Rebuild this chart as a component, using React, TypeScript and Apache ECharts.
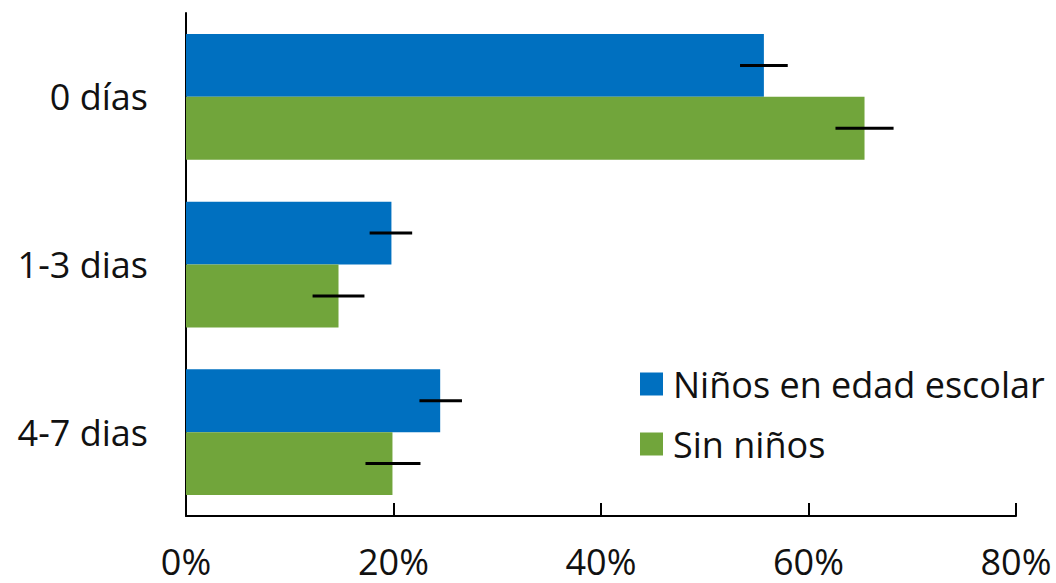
import React, { useEffect, useRef } from "react";
import * as echarts from "echarts";

const categories = ["0 días", "1-3 dias", "4-7 dias"];
const seriesNames = ["Niños en edad escolar", "Sin niños"];
const schoolKids = [55.7, 19.8, 24.5];
const schoolKidsLow = [53.4, 17.7, 22.5];
const schoolKidsHigh = [58.0, 21.8, 26.6];
const noKids = [65.4, 14.7, 19.9];
const noKidsLow = [62.6, 12.2, 17.3];
const noKidsHigh = [68.2, 17.2, 22.6];
const xTicks = [0, 20, 40, 60, 80];

const BLUE = "#0070C0";
const GREEN = "#71A53B";
const FONT = "Open Sans";

function errorSeries(low: number[], high: number[], dir: number) {
  return {
    type: "custom",
    silent: true,
    z: 10,
    data: low.map((l, i) => [i, l, high[i]]),
    encode: { x: [1, 2], y: 0 },
    renderItem: (params: any, api: any) => {
      const idx = api.value(0);
      const a = api.coord([api.value(1), idx]);
      const b = api.coord([api.value(2), idx]);
      const band = api.size([0, 1])[1];
      const off = dir * band * 0.1875;
      return {
        type: "line",
        shape: { x1: a[0], y1: a[1] + off, x2: b[0], y2: b[1] + off },
        style: { stroke: "#000", lineWidth: 3 },
      };
    },
  };
}

export default function App() {
  const ref = useRef<HTMLDivElement>(null);
  useEffect(() => {
    if (!ref.current) return;
    const chart = echarts.init(ref.current, undefined, { renderer: "svg" });
    chart.setOption({
      animation: false,
      textStyle: { fontFamily: FONT },
      grid: { left: 186, right: 40, top: 13, bottom: 67, containLabel: false },
      legend: {
        orient: "vertical",
        left: 635,
        top: 361,
        itemWidth: 23,
        itemHeight: 23,
        itemGap: 24,
        icon: "rect",
        data: seriesNames,
        textStyle: { fontSize: 36, color: "#111", fontFamily: FONT, padding: [0, 0, 0, 5] },
      },
      xAxis: {
        type: "value",
        min: xTicks[0],
        max: xTicks[xTicks.length - 1],
        interval: 20,
        axisLine: { show: true, lineStyle: { color: "#000", width: 2 } },
        axisTick: { show: true, inside: true, length: 13, lineStyle: { color: "#000", width: 2 } },
        splitLine: { show: false },
        axisLabel: {
          formatter: "{value}%",
          fontSize: 36,
          color: "#111",
          margin: 27,
          fontFamily: FONT,
        },
      },
      yAxis: {
        type: "category",
        inverse: true,
        data: categories,
        axisLine: { show: true, lineStyle: { color: "#000", width: 2 } },
        axisTick: { show: false },
        axisLabel: { fontSize: 36, color: "#111", margin: 38, fontFamily: FONT },
      },
      series: [
        {
          name: seriesNames[0],
          type: "bar",
          data: schoolKids,
          itemStyle: { color: BLUE },
          barGap: "0%",
          barCategoryGap: "25%",
        },
        {
          name: seriesNames[1],
          type: "bar",
          data: noKids,
          itemStyle: { color: GREEN },
          barGap: "0%",
          barCategoryGap: "25%",
        },
        errorSeries(schoolKidsLow, schoolKidsHigh, -1),
        errorSeries(noKidsLow, noKidsHigh, 1),
      ],
    });
    return () => chart.dispose();
  }, []);
  return (
    <div
      ref={ref}
      style={{ position: "fixed", left: 0, top: 0, width: 1056, height: 583, background: "#fff" }}
    />
  );
}
